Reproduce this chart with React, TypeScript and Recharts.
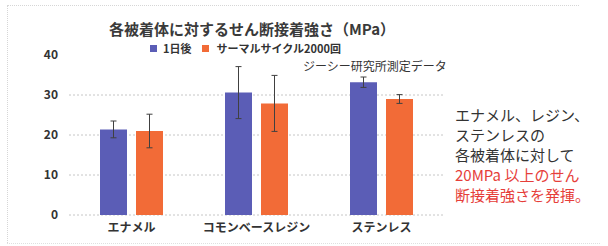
import React from 'react';
import { BarChart, Bar, XAxis, YAxis, CartesianGrid, ErrorBar } from 'recharts';

const categories = ['エナメル', 'コモンベースレジン', 'ステンレス'];
const day1Values = [21.4, 30.6, 33.2];
const day1Errors = [2.1, 6.5, 1.3];
const cycleValues = [21.0, 27.9, 29.0];
const cycleErrors = [4.2, 7.0, 1.1];
const yTicks = [0, 10, 20, 30, 40];
const gridValues = [0, 10, 20, 30];
const seriesNames = ['1日後', 'サーマルサイクル2000回'];
const titleText = '各被着体に対するせん断接着強さ（MPa）';
const sourceText = 'ジーシー研究所測定データ';
const noteLines = ['エナメル、レジン、', 'ステンレスの', '各被着体に対して'];
const noteRedLines = ['20MPa 以上のせん', '断接着強さを発揮。'];

const BLUE = '#5b5db6';
const ORANGE = '#f26b37';
const RED = '#e63e3a';
const JP = '"Noto Sans CJK JP", "Noto Sans", sans-serif';

const data = categories.map((name, i) => ({
  name,
  day1: day1Values[i],
  day1Err: day1Errors[i],
  cycle: cycleValues[i],
  cycleErr: cycleErrors[i],
}));

export default function App() {
  return (
    <div style={{ position: 'absolute', left: 0, top: 0, width: 608, height: 246, background: '#fff', fontFamily: JP, overflow: 'hidden' }}>
      {/* frame */}
      <div style={{ position: 'absolute', left: 7, top: 5, width: 572, height: 0, borderTop: '1px dotted #d6d6d6' }} />
      <div style={{ position: 'absolute', left: 7, top: 5, width: 0, height: 238, borderLeft: '1px dotted #d6d6d6' }} />
      <div style={{ position: 'absolute', left: 7, top: 243, width: 593, height: 0, borderTop: '1px dotted #e0e0e0' }} />

      <BarChart
        width={608}
        height={246}
        data={data}
        margin={{ top: 55, right: 164, left: 0, bottom: 0 }}
        barSize={27}
        barGap={9}
        style={{ position: 'absolute', left: 0, top: 0 }}
      >
        <CartesianGrid vertical={false} horizontalValues={gridValues} stroke="#c6c6c6" strokeDasharray="2 2" />
        <XAxis
          dataKey="name"
          axisLine={false}
          tickLine={false}
          height={31}
          interval={0}
          tick={{ fill: '#333', fontSize: 12, fontWeight: 700, fontFamily: JP }}
        />
        <YAxis
          domain={[0, 40]}
          ticks={yTicks}
          width={69}
          axisLine={false}
          tickLine={false}
          tickMargin={5}
          tick={{ fill: '#333', fontSize: 12, fontWeight: 700, fontFamily: JP }}
        />
        <Bar dataKey="day1" name={seriesNames[0]} fill={BLUE} isAnimationActive={false}>
          <ErrorBar dataKey="day1Err" width={3} stroke="#404040" strokeWidth={1} />
        </Bar>
        <Bar dataKey="cycle" name={seriesNames[1]} fill={ORANGE} isAnimationActive={false}>
          <ErrorBar dataKey="cycleErr" width={3} stroke="#404040" strokeWidth={1} />
        </Bar>
      </BarChart>

      {/* title */}
      <div style={{ position: 'absolute', left: 252, top: 21, transform: 'translateX(-50%)', whiteSpace: 'nowrap', fontSize: 15, fontWeight: 700, color: '#3a3a3a', lineHeight: '16px' }}>
        {titleText}
      </div>

      {/* legend */}
      <div style={{ position: 'absolute', left: 150, top: 42, display: 'flex', alignItems: 'center', whiteSpace: 'nowrap', fontSize: 11, fontWeight: 700, color: '#333', lineHeight: '12px' }}>
        <span style={{ display: 'inline-block', width: 7, height: 7, background: BLUE, marginRight: 6 }} />
        <span>{seriesNames[0]}</span>
        <span style={{ display: 'inline-block', width: 7, height: 7, background: ORANGE, marginLeft: 10, marginRight: 8 }} />
        <span>{seriesNames[1]}</span>
      </div>

      {/* source */}
      <div style={{ position: 'absolute', left: 303, top: 58, whiteSpace: 'nowrap', fontSize: 12, color: '#333', lineHeight: '16px' }}>
        {sourceText}
      </div>

      {/* note */}
      <div style={{ position: 'absolute', left: 455, top: 105, whiteSpace: 'nowrap', fontSize: 15, lineHeight: '20px', color: '#333' }}>
        {noteLines.map((l) => (
          <div key={l}>{l}</div>
        ))}
        {noteRedLines.map((l) => (
          <div key={l} style={{ color: RED }}>{l}</div>
        ))}
      </div>
    </div>
  );
}
